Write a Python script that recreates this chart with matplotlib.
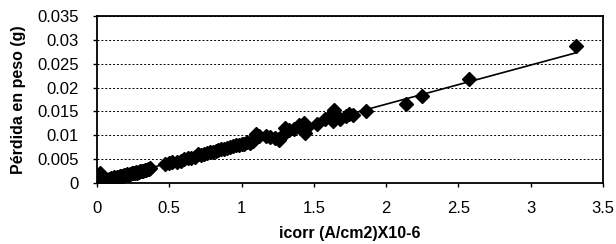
import numpy as np
import matplotlib.pyplot as plt

plt.rcParams['font.family'] = ['Liberation Sans', 'DejaVu Sans']

# icorr (A/cm2) x10-6 vs weight loss (g)
icorr = [0.0, 0.0, 0.01, 0.01, 0.02, 0.02, 0.03, 0.03, 0.04, 0.05, 0.05, 0.06,
         0.07, 0.08, 0.09, 0.10, 0.11, 0.12, 0.13, 0.14, 0.15, 0.16, 0.17, 0.18,
         0.19, 0.20, 0.21, 0.22, 0.23, 0.24, 0.25, 0.26, 0.27, 0.28, 0.29, 0.30,
         0.31, 0.32, 0.33, 0.34, 0.35, 0.36, 0.37,
         0.47, 0.50, 0.52, 0.55, 0.58, 0.60, 0.63, 0.65, 0.68, 0.70, 0.72, 0.74,
         0.76, 0.78, 0.80, 0.82, 0.84, 0.86, 0.88, 0.90, 0.92, 0.94, 0.96, 0.98,
         1.00, 1.02, 1.04, 1.06, 1.08, 1.10, 1.12, 1.17, 1.20, 1.23, 1.26, 1.28,
         1.30, 1.33, 1.36, 1.40, 1.43, 1.44, 1.45,
         1.52, 1.58, 1.61, 1.63, 1.64, 1.68, 1.72, 1.74, 1.77, 1.86,
         2.14, 2.25, 2.57, 3.31]
perdida = [0.0000, 0.0005, 0.0002, 0.0008, 0.0022, 0.0012, 0.0003, 0.0009, 0.0006, 0.0004, 0.0010, 0.0007,
           0.0006, 0.0009, 0.0008, 0.0010, 0.0009, 0.0012, 0.0011, 0.0013, 0.0012, 0.0014, 0.0015, 0.0014,
           0.0016, 0.0017, 0.0018, 0.0017, 0.0019, 0.0020, 0.0021, 0.0021, 0.0023, 0.0022, 0.0024, 0.0025,
           0.0026, 0.0026, 0.0028, 0.0028, 0.0029, 0.0030, 0.0031,
           0.0040, 0.0042, 0.0043, 0.0045, 0.0047, 0.0050, 0.0052, 0.0053, 0.0055, 0.0061, 0.0058, 0.0060,
           0.0062, 0.0065, 0.0066, 0.0068, 0.0070, 0.0071, 0.0072, 0.0074, 0.0076, 0.0077, 0.0079, 0.0080,
           0.0082, 0.0081, 0.0085, 0.0084, 0.0087, 0.0103, 0.0099, 0.0098, 0.0096, 0.0094, 0.0091, 0.0099,
           0.0115, 0.0112, 0.0114, 0.0121, 0.0126, 0.0105, 0.0118,
           0.0123, 0.0135, 0.0140, 0.0130, 0.0154, 0.0134, 0.0141, 0.0145, 0.0143, 0.0150,
           0.0166, 0.0182, 0.0218, 0.0287]

x = np.array(icorr)
y = np.array(perdida)
coef = np.polyfit(x, y, 1)
xfit = np.array([0.0, x.max()])

fig = plt.figure(figsize=(6.16, 2.44), dpi=100)
ax = fig.add_axes([97 / 616, 61 / 244, 506 / 616, 167 / 244])

ax.plot(x, y, 'D', color='black', markersize=7.5, zorder=3)
ax.plot(xfit, np.polyval(coef, xfit), color='black', linewidth=1.2, zorder=2)

ax.set_xlim(0, 3.5)
ax.set_ylim(0, 0.035)
ax.set_xticks(np.arange(0, 3.51, 0.5))
ax.set_xticklabels(['0', '0.5', '1', '1.5', '2', '2.5', '3', '3.5'])
ax.set_yticks(np.arange(0, 0.0351, 0.005))
ax.set_yticklabels(['0', '0.005', '0.01', '0.015', '0.02', '0.025', '0.03', '0.035'])
ax.yaxis.grid(True, color='black', linestyle=(0, (2, 2)), linewidth=0.7)
ax.set_axisbelow(True)

for s in ax.spines.values():
    s.set_linewidth(1.3)
ax.tick_params(axis='both', labelsize=12, length=3, width=1, direction='out')
ax.tick_params(axis='y', pad=10)
ax.tick_params(axis='x', pad=10)

ax.set_xlabel('icorr (A/cm2)X10-6', fontsize=11.5, fontweight='bold', labelpad=7)
ax.set_ylabel('Pérdida en peso (g)', fontsize=11.5, fontweight='bold', labelpad=8)

fig.savefig('out.png', dpi=100)
